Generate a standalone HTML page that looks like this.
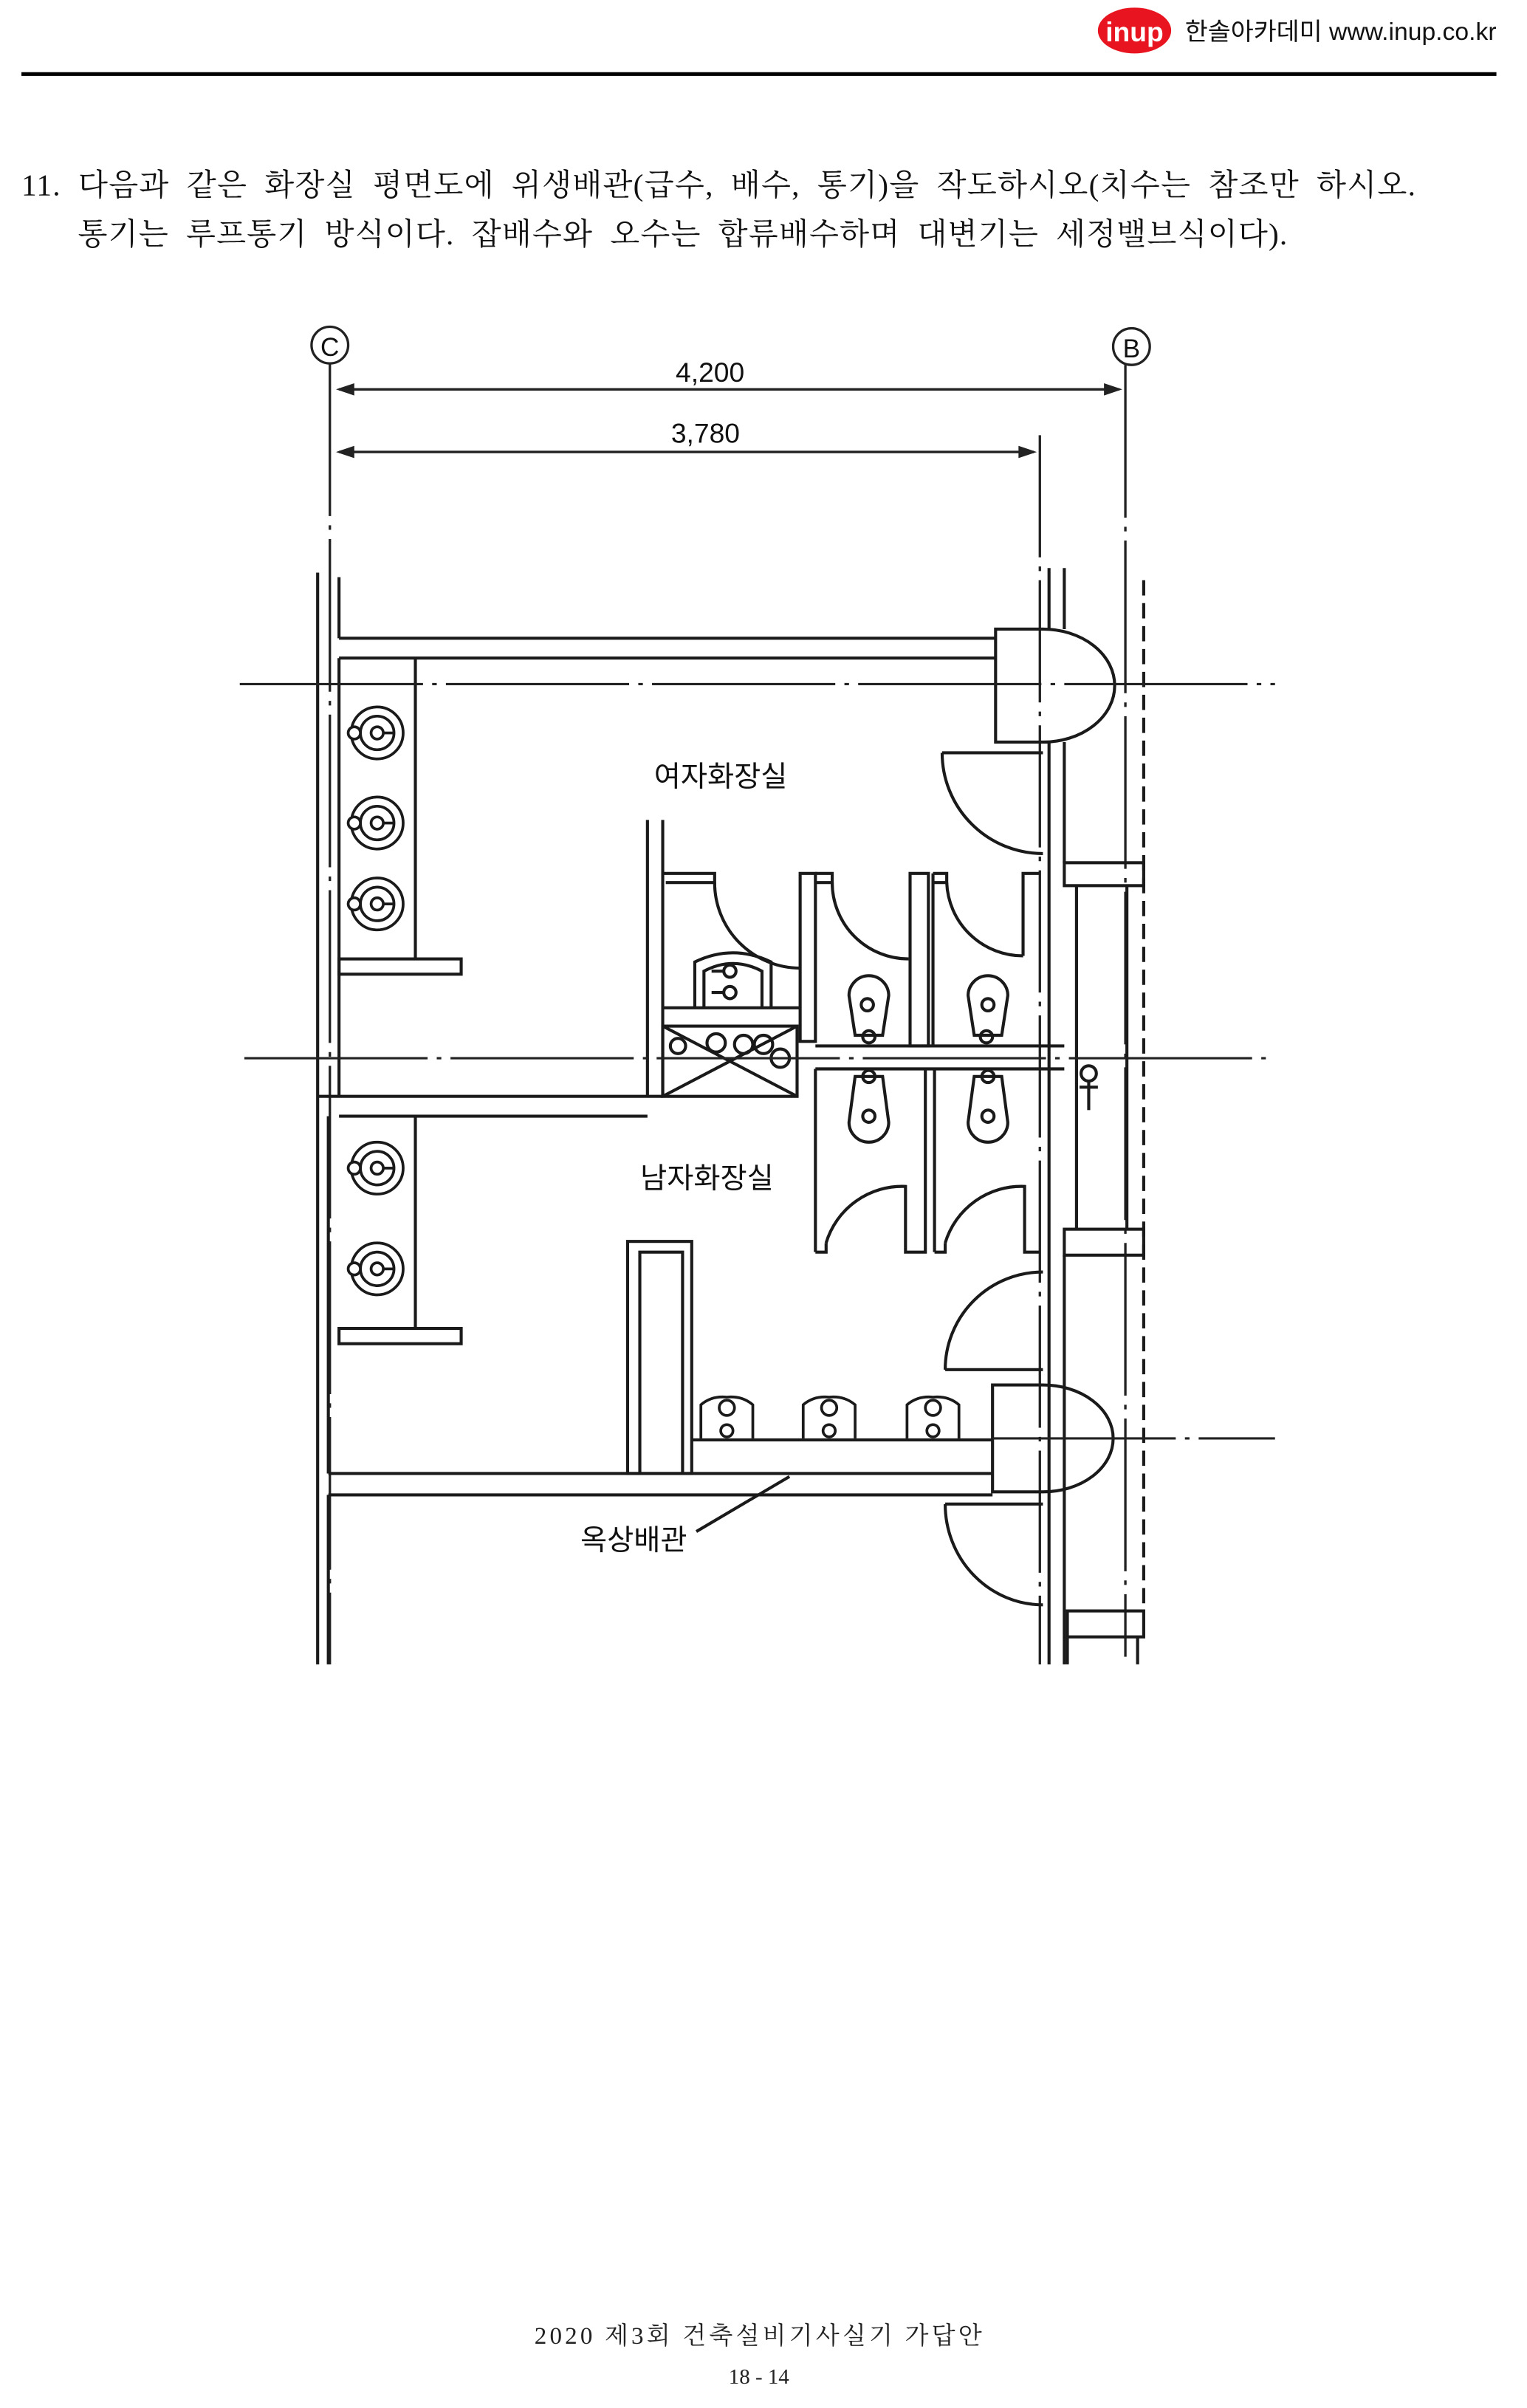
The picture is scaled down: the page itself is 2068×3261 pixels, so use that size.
<!DOCTYPE html>
<html><head><meta charset="utf-8"><style>
html,body{margin:0;padding:0;background:#fff;}
svg{display:block;}
text{font-family:"Liberation Sans","Noto Sans CJK KR",sans-serif;}
.s{font-family:"Liberation Serif","Noto Serif CJK SC",serif;}
</style></head><body>
<svg width="2068" height="3261" viewBox="0 0 1000 1577" xmlns="http://www.w3.org/2000/svg">
<rect width="1000" height="1577" fill="#fff"/>
<!-- header -->
<ellipse cx="743" cy="20" rx="24" ry="15" fill="#e8141f"/>
<text x="743" y="27" font-size="18" font-weight="bold" fill="#fff" text-anchor="middle">inup</text>
<text x="776" y="26" font-size="16" fill="#111" textLength="204" lengthAdjust="spacingAndGlyphs">한솔아카데미 www.inup.co.kr</text>
<line x1="14" y1="48.5" x2="980" y2="48.5" stroke="#000" stroke-width="2.5"/>
<!-- question -->
<text class="s" x="14" y="128" font-size="20" fill="#111" xml:space="preserve" textLength="913" lengthAdjust="spacing">11.  다음과  같은  화장실  평면도에  위생배관(급수,  배수,  통기)을  작도하시오(치수는  참조만  하시오.</text>
<text class="s" x="51" y="160" font-size="20" fill="#111" xml:space="preserve" textLength="792" lengthAdjust="spacing">통기는  루프통기  방식이다.  잡배수와  오수는  합류배수하며  대변기는  세정밸브식이다).</text>
<g stroke="#222" stroke-width="1.6" fill="none">
<circle cx="216" cy="226" r="12"/><circle cx="741" cy="227" r="12"/>
<line x1="216" y1="238" x2="216" y2="1090" stroke-dasharray="100,6,3,6"/>
<line x1="737" y1="239" x2="737" y2="1085" stroke-dasharray="100,6,3,6"/>
<line x1="681" y1="285" x2="681" y2="1090" stroke-dasharray="80,6,3,6"/>
<line x1="222" y1="255" x2="733" y2="255"/>
<line x1="222" y1="296" x2="677" y2="296"/>
</g>
<text x="216" y="233" font-size="17" text-anchor="middle" fill="#111">C</text>
<text x="741" y="234" font-size="17" text-anchor="middle" fill="#111">B</text>
<g fill="#222">
<polygon points="220,255 232,251 232,259"/><polygon points="735,255 723,251 723,259"/>
<polygon points="220,296 232,292 232,300"/><polygon points="679,296 667,292 667,300"/>
</g>
<text x="465" y="250" font-size="18" text-anchor="middle" fill="#111">4,200</text>
<text x="462" y="290" font-size="18" text-anchor="middle" fill="#111">3,780</text>
<g stroke="#1a1a1a" stroke-width="2" fill="none">
<line x1="208" y1="375" x2="208" y2="1090"/>
<line x1="222" y1="378" x2="222" y2="418"/>
<line x1="222" y1="431" x2="222" y2="718"/>
<line x1="215" y1="731" x2="215" y2="965"/>
<line x1="215" y1="979" x2="215" y2="1090"/>
<line x1="222" y1="418" x2="652" y2="418"/>
<line x1="222" y1="431" x2="652" y2="431"/>
<path d="M652,412 H683 A47,37 0 0 1 683,486 H652 Z"/>
<line x1="687" y1="372" x2="687" y2="412"/>
<line x1="697" y1="372" x2="697" y2="412"/>
<line x1="687" y1="486" x2="687" y2="1090"/>
<line x1="697" y1="486" x2="697" y2="565"/>
<line x1="749" y1="380" x2="749" y2="1055" stroke-dasharray="10,5"/>
<rect x="697" y="565" width="52" height="15"/>
<line x1="705" y1="580" x2="705" y2="805"/>
<line x1="738" y1="580" x2="738" y2="805"/>
<rect x="697" y="805" width="52" height="17"/>
<line x1="697" y1="822" x2="697" y2="1090"/>
<rect x="699" y="1055" width="50" height="17"/>
<line x1="699" y1="1072" x2="699" y2="1090"/>
<line x1="745" y1="1072" x2="745" y2="1090"/>
<path d="M617,493 H683 M617,493 A66,66 0 0 0 683,559"/>
<line x1="272" y1="431" x2="272" y2="628"/>
<rect x="222" y="628" width="80" height="10"/>
<line x1="424" y1="537" x2="424" y2="718"/>
<line x1="434" y1="537" x2="434" y2="718"/>
<path d="M434,572 H468 V578 H436"/>
<path d="M468,578 A56,56 0 0 0 524,634"/>
<rect x="524" y="572" width="10" height="110"/>
<path d="M534,572 H545 V578 H534"/>
<path d="M545,578 A50,50 0 0 0 595,628"/>
<rect x="596" y="572" width="12" height="113"/>
<path d="M611,572 H620 V578 H611"/>
<path d="M620,578 A50,50 0 0 0 670,626"/>
<path d="M670,626 V572 H681"/>
<line x1="611" y1="572" x2="611" y2="685"/>
<line x1="434" y1="660" x2="524" y2="660"/>
<path d="M455,660 V630 Q480,618 505,630 V660"/>
<path d="M461,660 V636 Q480,626 499,636 V660"/>
<circle cx="478" cy="636" r="4"/><line x1="466" y1="636" x2="474" y2="636"/>
<circle cx="478" cy="650" r="4"/><line x1="466" y1="650" x2="474" y2="650"/>
<rect x="434" y="672" width="88" height="46"/>
<line x1="434" y1="672" x2="522" y2="718"/><line x1="522" y1="672" x2="434" y2="718"/>
<circle cx="444" cy="685" r="5"/><circle cx="469" cy="683" r="6"/><circle cx="487" cy="684" r="6"/><circle cx="500" cy="684" r="6"/><circle cx="511" cy="693" r="6"/>
<line x1="534" y1="685" x2="697" y2="685"/>
<line x1="534" y1="700" x2="697" y2="700"/>
<line x1="208" y1="718" x2="434" y2="718"/>
<line x1="222" y1="731" x2="424" y2="731"/>
<path d="M556,652 A13,13 0 0 1 582,652 L578,678 H560 Z"/><circle cx="568" cy="658" r="4"/><circle cx="569" cy="679" r="4"/>
<path d="M634,652 A13,13 0 0 1 660,652 L656,678 H638 Z"/><circle cx="647" cy="658" r="4"/><circle cx="646" cy="679" r="4"/>
<line x1="534" y1="700" x2="534" y2="820"/>
<path d="M534,820 H541 V814"/><path d="M541,814 A52,52 0 0 1 593,777 V820 H606 V700"/>
<line x1="612" y1="700" x2="612" y2="820"/>
<path d="M612,820 H619 V814"/><path d="M619,814 A52,52 0 0 1 671,777 V820 H681"/>
<path d="M560,705 H578 L582,735 A13,13 0 0 1 556,735 Z"/><circle cx="569" cy="705" r="4"/><circle cx="569" cy="731" r="4"/>
<path d="M638,705 H656 L660,735 A13,13 0 0 1 634,735 Z"/><circle cx="647" cy="705" r="4"/><circle cx="647" cy="731" r="4"/>
<circle cx="713" cy="703" r="5"/><line x1="713" y1="708" x2="713" y2="727"/><line x1="707" y1="712" x2="719" y2="712"/>
<line x1="272" y1="731" x2="272" y2="870"/>
<rect x="222" y="870" width="80" height="10"/>
<rect x="411" y="813" width="42" height="152"/>
<path d="M419,965 V820 H447 V965"/>
<line x1="453" y1="943" x2="650" y2="943"/>
<line x1="215" y1="965" x2="650" y2="965"/>
<line x1="215" y1="979" x2="650" y2="979"/>
<path d="M650,907 H683 A46,35 0 0 1 683,977 H650 Z"/>
<path d="M619,897 H683 M619,897 A64,64 0 0 1 683,833"/>
<path d="M619,985 H683 M619,985 A64,66 0 0 0 683,1051"/>
<line x1="456" y1="1003" x2="517" y2="967"/>
</g>
<g stroke="#1a1a1a" stroke-width="1.8" fill="none">
<g id="sk"><circle cx="247" cy="480" r="17"/><circle cx="247" cy="480" r="11"/><circle cx="247" cy="480" r="4"/><circle cx="232" cy="480" r="4" fill="#fff"/><line x1="251" y1="480" x2="258" y2="480"/></g>
<use href="#sk" y="59"/><use href="#sk" y="112"/><use href="#sk" y="285"/><use href="#sk" y="351"/>
<g id="ur"><path d="M459,942 V920 Q466,914 476,915 Q486,914 493,920 V942"/><circle cx="476" cy="922" r="5"/><circle cx="476" cy="937" r="4"/></g>
<use href="#ur" x="67"/><use href="#ur" x="135"/>
</g>
<g stroke="#222" stroke-width="1.5" fill="none" stroke-dasharray="120,6,3,6">
<line x1="157" y1="448" x2="835" y2="448"/>
<line x1="160" y1="693" x2="833" y2="693"/>
<line x1="650" y1="942" x2="835" y2="942"/>
</g>
<text x="472" y="515" font-size="19" text-anchor="middle" fill="#111">여자화장실</text>
<text x="463" y="778" font-size="19" text-anchor="middle" fill="#111">남자화장실</text>
<text x="415" y="1015" font-size="19" text-anchor="middle" fill="#111">옥상배관</text>
<text class="s" x="350" y="1535" font-size="16" fill="#222" textLength="293" lengthAdjust="spacing">2020 제3회 건축설비기사실기 가답안</text>
<text class="s" x="497" y="1561" font-size="14" text-anchor="middle" fill="#222">18 - 14</text>
</svg>
</body></html>
